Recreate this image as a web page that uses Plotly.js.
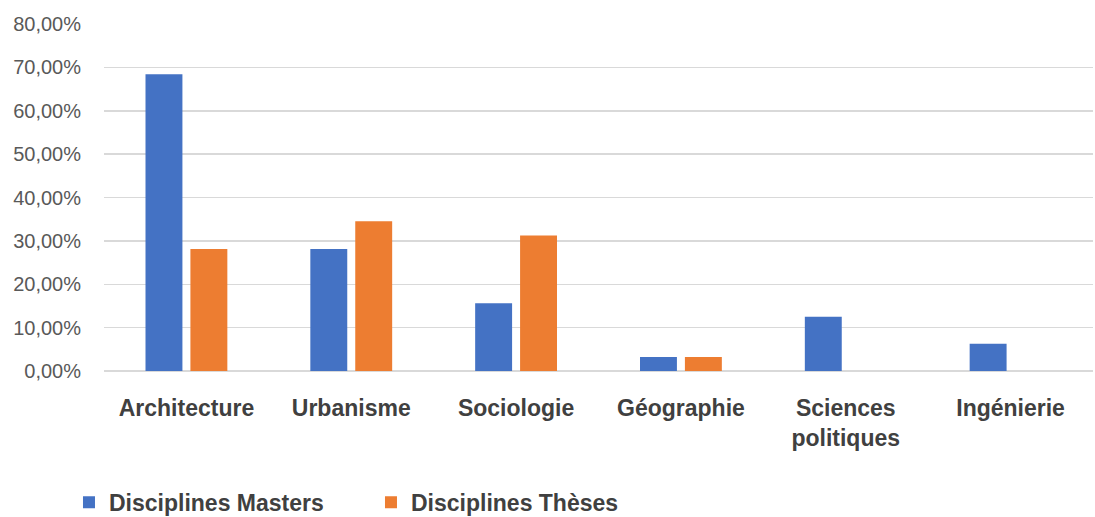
<!DOCTYPE html>
<html>
<head>
<meta charset="utf-8">
<script src="https://cdn.plot.ly/plotly-3.0.1.min.js"></script>
<style>html,body{margin:0;padding:0;background:#fff;}#chart{width:1095px;height:517px;}</style>
</head>
<body>
<div id="chart"></div>
<script>
const categories = ["Architecture", "Urbanisme", "Sociologie", "Géographie", "Sciences<br>politiques", "Ingénierie"];
const mastersValues = [68.4, 28.1, 15.6, 3.2, 12.5, 6.3];
const thesesValues = [28.1, 34.5, 31.25, 3.2, 0, 0];
const seriesNames = ["Disciplines Masters", "Disciplines Thèses"];
const yTicks = [0, 10, 20, 30, 40, 50, 60, 70, 80];
const yTickLabels = ["0,00%", "10,00%", "20,00%", "30,00%", "40,00%", "50,00%", "60,00%", "70,00%", "80,00%"];

const traces = [
  {type: 'bar', name: seriesNames[0], x: categories, y: mastersValues,
   marker: {color: '#4472c4'}, hoverinfo: 'x+y'},
  {type: 'bar', name: seriesNames[1], x: categories, y: thesesValues,
   marker: {color: '#ed7d31'}, hoverinfo: 'x+y'}
];

const layout = {
  width: 1095, height: 517,
  margin: {l: 104, r: 2, t: 24, b: 146},
  paper_bgcolor: '#fff', plot_bgcolor: '#fff',
  barmode: 'group', bargap: 0.455, bargroupgap: 0.178,
  font: {family: '"Liberation Sans", Arial, sans-serif', color: '#595959'},
  xaxis: {
    showgrid: false, zeroline: false, showline: false, ticks: '',
    tickfont: {size: 23, color: '#404040', weight: 'bold'},
    ticklabelstandoff: 21
  },
  yaxis: {
    range: [0, 80], tickvals: yTicks, ticktext: yTickLabels,
    showgrid: true, gridcolor: '#d9d9d9', gridwidth: 1.5,
    zeroline: true, zerolinecolor: '#d9d9d9', zerolinewidth: 1.5,
    showline: false, ticks: '',
    tickfont: {size: 20, color: '#595959'},
    ticklabelstandoff: 22
  },
  showlegend: true,
  legend: {
    orientation: 'h', xref: 'container', yref: 'container',
    x: 0.063, y: 0.07, xanchor: 'left', yanchor: 'top',
    font: {size: 23, color: '#404040', weight: 'bold'},
    entrywidth: 257, itemwidth: 30
  }
};

Plotly.newPlot('chart', traces, layout, {displayModeBar: false, staticPlot: true});
</script>
</body>
</html>
